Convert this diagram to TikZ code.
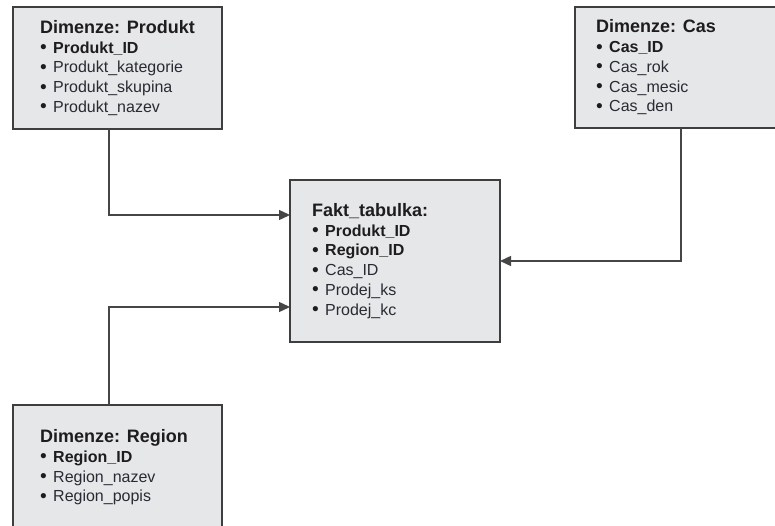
\documentclass[tikz,border=0pt]{standalone}
\usepackage{fontspec}
\usepackage{graphicx}
\setmainfont{Liberation Sans}
\usetikzlibrary{arrows.meta}

\definecolor{Vypln}{RGB}{230,231,232}
\definecolor{Okraj}{RGB}{62,62,62}
\definecolor{Cara}{RGB}{70,70,70}
\definecolor{Pismo}{RGB}{30,28,30}
\definecolor{Polozka}{RGB}{42,42,52}

\newcommand{\Pol}{\makebox[13pt][l]{\raisebox{-0.4pt}{\scalebox{1.2}{\textbullet}}}}
\newcommand{\Klic}[1]{\Pol\textbf{#1}}
\newcommand{\Atr}[1]{\Pol\textcolor{Polozka}{#1}}
\newcommand{\Nadpis}[1]{{\bfseries\fontsize{18}{19.75}\selectfont #1}}

\tikzset{
  tabulka/.style={draw=Okraj, line width=1.8pt, fill=Vypln, outer sep=0pt, inner sep=0pt, anchor=north west},
  obsah/.style={anchor=west, align=left, inner sep=0pt, text=Pismo, font=\fontsize{16}{19.75}\selectfont},
  spoj/.style={draw=Cara, line width=1.4pt, -{Triangle[length=11pt,width=10pt]}},
}

\begin{document}
\begin{tikzpicture}[x=1pt,y=1pt]
\useasboundingbox (0,0) rectangle (775,-526);
\clip (0,0) rectangle (775,-526);

\node[tabulka, minimum width=209pt, minimum height=122pt] (prod) at (13,-7) {};% Dimenze Produkt
\node[obsah] (prodtext) at ([xshift=27pt]prod.west) {\Nadpis{Dimenze: Produkt}\\
  \Klic{Produkt\_ID}\\ \Atr{Produkt\_kategorie}\\ \Atr{Produkt\_skupina}\\ \Atr{Produkt\_nazev}};

\node[tabulka, minimum width=215pt, minimum height=121pt] (cas) at (575,-7) {};% Dimenze Cas
\node[obsah] (castext) at ([xshift=21pt]cas.west) {\Nadpis{Dimenze: Cas}\\
  \Klic{Cas\_ID}\\ \Atr{Cas\_rok}\\ \Atr{Cas\_mesic}\\ \Atr{Cas\_den}};

\node[tabulka, minimum width=210pt, minimum height=162pt] (fakt) at (290,-180) {};% Fakta
\node[obsah] (fakttext) at ([xshift=22pt]fakt.west) {\Nadpis{Fakt\_tabulka:}\\
  \Klic{Produkt\_ID}\\ \Klic{Region\_ID}\\ \Atr{Cas\_ID}\\ \Atr{Prodej\_ks}\\ \Atr{Prodej\_kc}};

\node[tabulka, minimum width=209pt, minimum height=125pt] (reg) at (13,-405) {};% Dimenze Region
\node[obsah] (regtext) at ([xshift=27pt]reg.west) {\Nadpis{Dimenze: Region}\\
  \Klic{Region\_ID}\\ \Atr{Region\_nazev}\\ \Atr{Region\_popis}};

% Spojnice
\draw[spoj] ([xshift=96pt]prod.south west) |- ([yshift=46pt]fakt.west);
\draw[spoj] ([xshift=106pt]cas.south west) |- (fakt.east);
\draw[spoj] ([xshift=96pt]reg.north west) |- ([yshift=-46pt]fakt.west);
\end{tikzpicture}
\end{document}
